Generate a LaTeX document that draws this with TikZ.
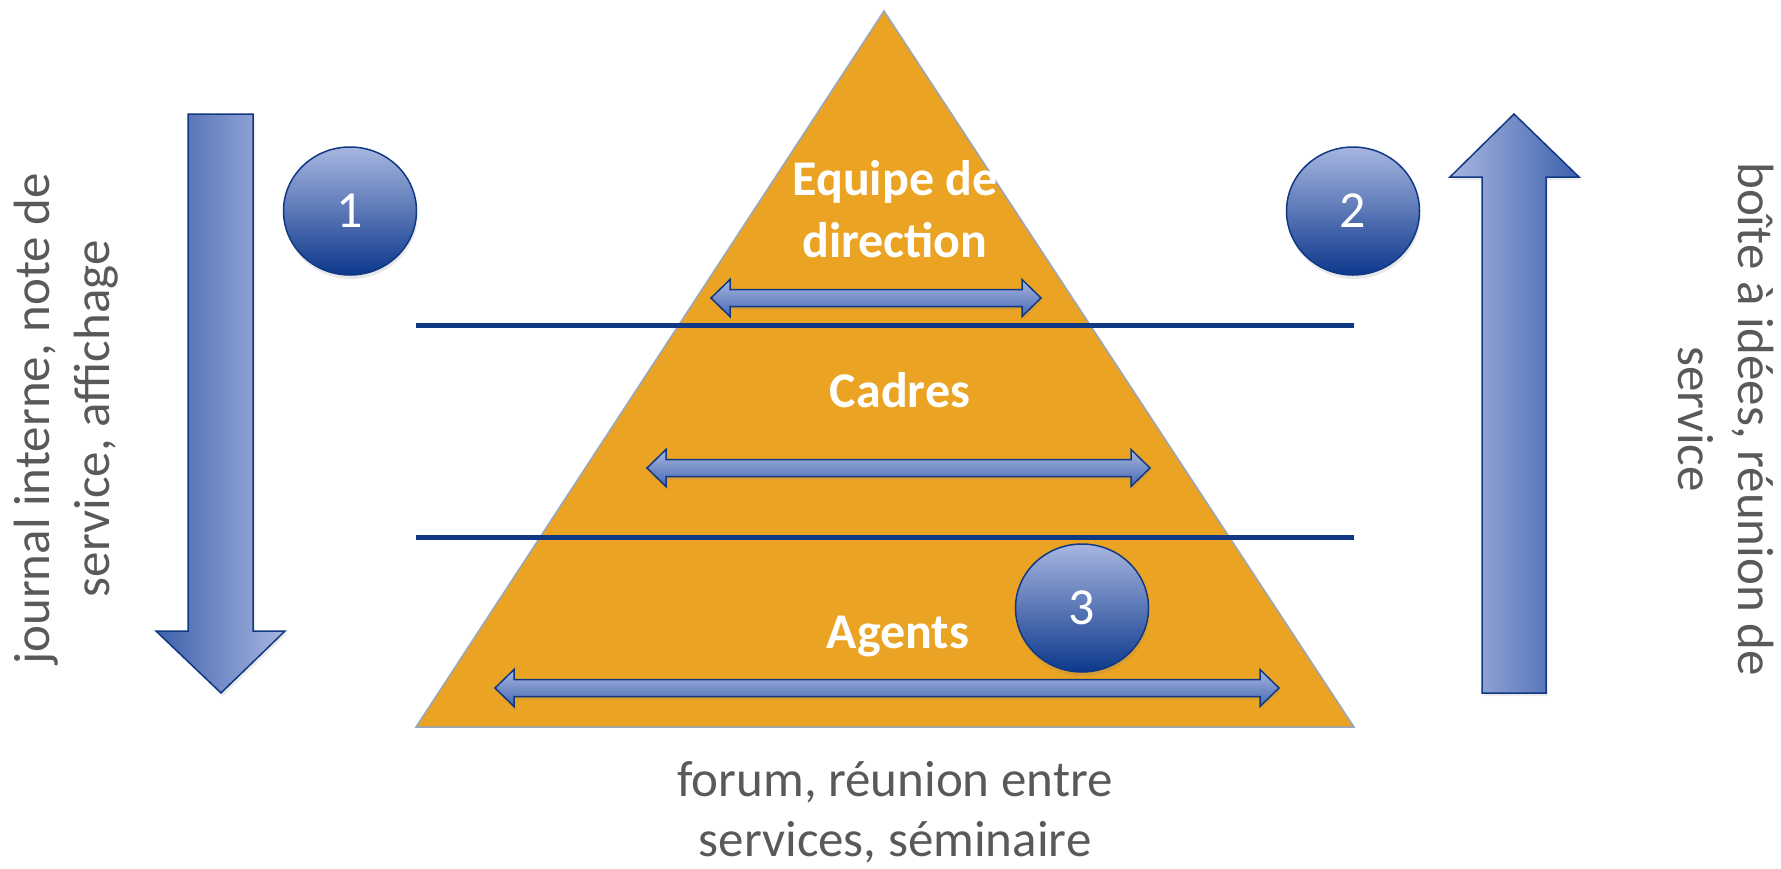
\documentclass[tikz,border=0pt]{standalone}
\usepackage{fontspec}
\setmainfont{Carlito}
\usetikzlibrary{shapes.geometric,shadows}
\definecolor{orangeP}{RGB}{234,163,34}
\definecolor{navy}{RGB}{16,56,132}
\definecolor{lightB}{RGB}{168,182,224}
\definecolor{midB}{RGB}{70,105,178}
\definecolor{darkB}{RGB}{12,56,140}
\definecolor{txtgray}{RGB}{89,89,89}
\definecolor{triedge}{RGB}{150,166,195}
\newcommand{\myDoubleArrow}[3]{%
  \draw[dbl] (#1,#3) -- ++(19,-18.5) -- ++(0,10) -- (#2-19,#3-8.5) -- ++(0,-10) -- (#2,#3)
    -- (#2-19,#3+18.5) -- ++(0,-10) -- (#1+19,#3+8.5) -- ++(0,10) -- cycle;}
\begin{document}
\begin{tikzpicture}[x=1pt,y=-1pt,
  sidetext/.style={font=\fontsize{51}{60}\selectfont, text=txtgray, align=center, inner sep=0pt},
  level/.style={font=\fontsize{50}{62}\selectfont\bfseries, text=white, align=center, inner sep=0pt},
  bubble/.style={ellipse, draw=navy, line width=1.5pt, minimum width=133pt, minimum height=128pt,
     top color=lightB, bottom color=darkB, text=white, font=\fontsize{52}{52}\selectfont,
     drop shadow={opacity=0.18, shadow xshift=1pt, shadow yshift=-4pt}},
  sep/.style={draw=navy, line width=5pt},
  dbl/.style={draw=navy, line width=1.5pt, top color=lightB, bottom color=midB,
     drop shadow={opacity=0.15, shadow xshift=1pt, shadow yshift=-3pt}},
  bigarrow/.style={draw=navy, line width=1.5pt,
     drop shadow={opacity=0.15, shadow xshift=2pt, shadow yshift=-3pt}},
]
\useasboundingbox (0,0) rectangle (1781,868);

% pyramid
\coordinate (apex) at (884,11);
\coordinate (bl) at (416,727);
\coordinate (br) at (1354,727);
\fill[orangeP] (apex) -- (br) -- (bl) -- cycle;
\draw[triedge, line width=1.5pt, line join=miter] (apex) -- (br) -- (bl) -- cycle;

% separator lines
\coordinate (l1a) at (416,325);
\coordinate (l1b) at (1354,325);
\coordinate (l2a) at (416,537);
\coordinate (l2b) at (1354,537);
\draw[sep] (l1a) -- (l1b);
\draw[sep] (l2a) -- (l2b);

% horizontal double arrows
\myDoubleArrow{711}{1041}{298}
\myDoubleArrow{647}{1150}{468}
\myDoubleArrow{495}{1279}{688}

% level labels
\node[level] (dir) at (895,209) {Equipe de\\direction};
\node[level, anchor=base] (cad) at (900,407) {Cadres};
\node[level, anchor=base] (agt) at (898,648) {Agents};

% vertical arrows
\shade[bigarrow, left color=midB!85!darkB, right color=lightB]
  (188,114) -- (253,114) -- (253,631) -- (285,631) -- (221,693) -- (156,631) -- (188,631) -- cycle;
\shade[bigarrow, left color=lightB, right color=midB!85!darkB]
  (1482,693) -- (1546,693) -- (1546,177) -- (1579,177) -- (1514,114) -- (1450,177) -- (1482,177) -- cycle;

% bubbles
\node[bubble] (b1) at (350,211) {1};
\node[bubble] (b2) at (1353,211) {2};
\node[bubble] (b3) at (1082,608) {3};

% side texts
\node[sidetext, rotate=90] (lt) at (66,419) {journal interne, note de\\service, affichage};
\node[sidetext, rotate=-90] (rt) at (1726,419) {boîte à idées, réunion de\\service};
\node[sidetext] (bt) at (895,812) {forum, réunion entre\\services, séminaire};
\end{tikzpicture}
\end{document}
